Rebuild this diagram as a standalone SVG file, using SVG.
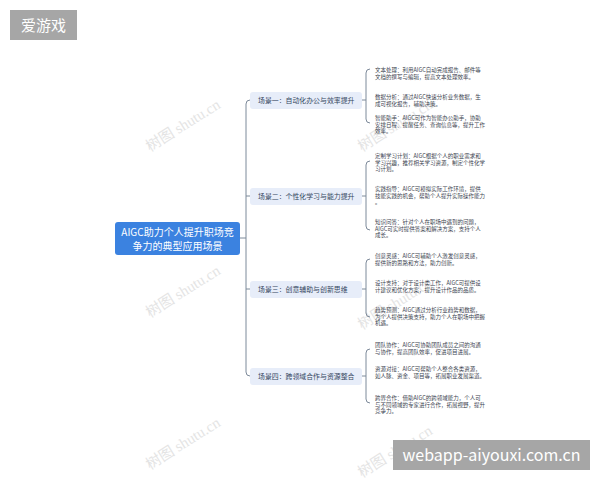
<svg xmlns="http://www.w3.org/2000/svg" width="600" height="480" viewBox="0 0 600 480">
<defs>
<style>
.wm{font-family:"Liberation Serif","Noto Sans CJK SC",serif;font-size:15px;fill:#e4e4e4}
.conn{fill:none;stroke:#7d8a9a;stroke-width:1}
.root{fill:#3b82e0}
.rt{font-family:"Noto Sans CJK SC",sans-serif;font-size:10px;fill:#ffffff;text-anchor:middle}
.sbox{fill:#e7edf9}
.st{font-family:"Noto Sans CJK SC",sans-serif;font-size:6.9px;fill:#34465e}
.lt{font-family:"Noto Sans CJK SC",sans-serif;font-size:5.5px;fill:#3c4450}
.badge{fill:#a6a6a6}
.bt{font-family:"Noto Sans CJK SC","DejaVu Sans",sans-serif;fill:#ffffff}
</style>
</defs>
<rect width="600" height="480" fill="#ffffff"/>
<g id="watermarks">
<text class="wm" transform="translate(150,152) rotate(-32)">树图 shutu.cn</text>
<text class="wm" transform="translate(150,318) rotate(-32)">树图 shutu.cn</text>
<text class="wm" transform="translate(362,152) rotate(-32)">树图 shutu.cn</text>
<text class="wm" transform="translate(362,330) rotate(-32)">树图 shutu.cn</text>
<text class="wm" transform="translate(150,470) rotate(-32)">树图 shutu.cn</text>
<text class="wm" transform="translate(362,478) rotate(-32)">树图 shutu.cn</text>
</g>
<g id="connectors">
<path class="conn" d="M240,238 H246"/>
<path class="conn" d="M250,100 Q246,100 246,104 V372 Q246,376 250,376"/>
<path class="conn" d="M246,196 H250"/>
<path class="conn" d="M246,289 H250"/>
<path class="conn" d="M362,100 H366 M370,69 Q366,69 366,73 V119 Q366,123 370,123"/>
<path class="conn" d="M362,196 H366 M370,161 Q366,161 366,165 V226 Q366,230 370,230"/>
<path class="conn" d="M362,289 H366 M370,259 Q366,259 366,263 V313 Q366,317 370,317"/>
<path class="conn" d="M362,376 H366 M370,349 Q366,349 366,353 V399 Q366,403 370,403"/>
</g>
<g id="root">
<rect class="root" x="115" y="222" width="125" height="33" rx="3"/>
<text class="rt" x="177.5" y="236">AIGC助力个人提升职场竞</text>
<text class="rt" x="177.5" y="250">争力的典型应用场景</text>
</g>
<g id="scene1">
<rect class="sbox" x="250" y="92" width="112" height="17" rx="3"/>
<text class="st" x="258" y="102.5">场景一：自动化办公与效率提升</text>
</g>
<g id="scene2">
<rect class="sbox" x="250" y="188" width="112" height="17" rx="3"/>
<text class="st" x="258" y="198.5">场景二：个性化学习与能力提升</text>
</g>
<g id="scene3">
<rect class="sbox" x="250" y="281" width="112" height="17" rx="3"/>
<text class="st" x="258" y="291.5">场景三：创意辅助与创新思维</text>
</g>
<g id="scene4">
<rect class="sbox" x="250" y="368" width="112" height="17" rx="3"/>
<text class="st" x="258" y="378.5">场景四：跨领域合作与资源整合</text>
</g>
<g id="leaf1-1"><text class="lt" x="375" y="72">文本处理：利用AIGC自动完成报告、邮件等</text><text class="lt" x="375" y="78.5">文档的撰写与编辑，提高文本处理效率。</text></g>
<g id="leaf1-2"><text class="lt" x="375" y="99">数据分析：通过AIGC快速分析业务数据，生</text><text class="lt" x="375" y="105.5">成可视化报告，辅助决策。</text></g>
<g id="leaf1-3"><text class="lt" x="375" y="120">智能助手：AIGC可作为智能办公助手，协助</text><text class="lt" x="375" y="126.5">安排日程、提醒任务、查询信息等，提升工作</text><text class="lt" x="375" y="133">效率。</text></g>
<g id="leaf2-1"><text class="lt" x="375" y="158">定制学习计划：AIGC根据个人的职业需求和</text><text class="lt" x="375" y="164.5">学习兴趣，推荐相关学习资源，制定个性化学</text><text class="lt" x="375" y="171">习计划。</text></g>
<g id="leaf2-2"><text class="lt" x="375" y="191">实践指导：AIGC可模拟实际工作环境，提供</text><text class="lt" x="375" y="197.5">技能实践的机会，帮助个人提升实际操作能力</text><text class="lt" x="375" y="204">。</text></g>
<g id="leaf2-3"><text class="lt" x="375" y="224">知识问答：针对个人在职场中遇到的问题，</text><text class="lt" x="375" y="230.5">AIGC可实时提供答案和解决方案，支持个人</text><text class="lt" x="375" y="237">成长。</text></g>
<g id="leaf3-1"><text class="lt" x="375" y="258">创意灵感：AIGC可辅助个人激发创意灵感，</text><text class="lt" x="375" y="264.5">提供新的思路和方法，助力创新。</text></g>
<g id="leaf3-2"><text class="lt" x="375" y="285">设计支持：对于设计类工作，AIGC可提供设</text><text class="lt" x="375" y="291.5">计建议和优化方案，提升设计作品的品质。</text></g>
<g id="leaf3-3"><text class="lt" x="375" y="312">趋势预测：AIGC通过分析行业趋势和数据，</text><text class="lt" x="375" y="318.5">为个人提供决策支持，助力个人在职场中把握</text><text class="lt" x="375" y="325">机遇。</text></g>
<g id="leaf4-1"><text class="lt" x="375" y="347">团队协作：AIGC可协助团队成员之间的沟通</text><text class="lt" x="375" y="353.5">与协作，提高团队效率，促进项目进展。</text></g>
<g id="leaf4-2"><text class="lt" x="375" y="371">资源对接：AIGC可帮助个人整合各类资源，</text><text class="lt" x="375" y="377.5">如人脉、资金、项目等，拓展职业发展渠道。</text></g>
<g id="leaf4-3"><text class="lt" x="375" y="400">跨界合作：借助AIGC的跨领域能力，个人可</text><text class="lt" x="375" y="406.5">与不同领域的专家进行合作，拓展视野，提升</text><text class="lt" x="375" y="413">竞争力。</text></g>
<g id="badge-top">
<rect class="badge" x="10" y="10" width="67" height="30"/>
<text class="bt" x="43.5" y="31" font-size="15" text-anchor="middle">爱游戏</text>
</g>
<g id="badge-bottom">
<rect class="badge" x="393" y="440" width="197" height="30"/>
<text class="bt" x="491.5" y="461" font-size="16" text-anchor="middle">webapp-aiyouxi.com.cn</text>
</g>
</svg>
